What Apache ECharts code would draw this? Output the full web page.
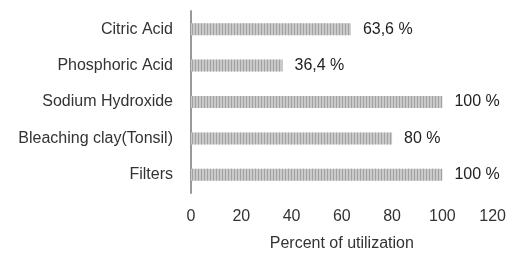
<!DOCTYPE html>
<html>
<head>
<meta charset="utf-8">
<script src="https://cdn.jsdelivr.net/npm/echarts@6/dist/echarts.min.js"></script>
<style>
  html, body { margin: 0; padding: 0; background: #fff; }
  #chart { width: 509px; height: 257px; }
</style>
</head>
<body>
<div id="chart"></div>
<script>
  // categories top to bottom
  var categories = ['Citric Acid', 'Phosphoric Acid', 'Sodium Hydroxide', 'Bleaching clay(Tonsil)', 'Filters'];
  var utilization = [63.6, 36.4, 100, 80, 100];
  var xTicks = { min: 0, max: 120, interval: 20 };

  var myChart = echarts.init(document.getElementById('chart'));
  var font = 'Liberation Sans';
  option = {
    animation: false,
    grid: { left: 191, right: 14, top: 11, bottom: 62, containLabel: false },
    xAxis: {
      type: 'value',
      min: xTicks.min, max: xTicks.max, interval: xTicks.interval,
      axisLine: { show: false },
      axisTick: { show: false },
      splitLine: { show: false },
      axisLabel: { fontFamily: font, fontSize: 16, color: '#333', margin: 16 },
      name: 'Percent of utilization',
      nameLocation: 'middle',
      nameGap: 43,
      nameTextStyle: { fontFamily: font, fontSize: 16, color: '#333' }
    },
    yAxis: {
      type: 'category',
      inverse: true,
      data: categories,
      axisLine: { show: true, lineStyle: { color: '#999', width: 2 } },
      axisTick: { show: false },
      axisLabel: { fontFamily: font, fontSize: 16, color: '#333', margin: 18 }
    },
    series: [{
      type: 'bar',
      data: utilization,
      barWidth: 12,
      itemStyle: {
        color: '#cacaca',
        decal: {
          symbol: 'rect',
          symbolSize: 1,
          dashArrayX: [1, 2],
          dashArrayY: [4, 0],
          color: 'rgba(120,120,120,0.5)'
        }
      },
      label: {
        show: true,
        position: 'right',
        distance: 12,
        fontFamily: font,
        fontSize: 16,
        color: '#222',
        formatter: function (p) {
          return String(p.value).replace('.', ',') + ' %';
        }
      }
    }]
  };
  myChart.setOption(option);
</script>
</body>
</html>
